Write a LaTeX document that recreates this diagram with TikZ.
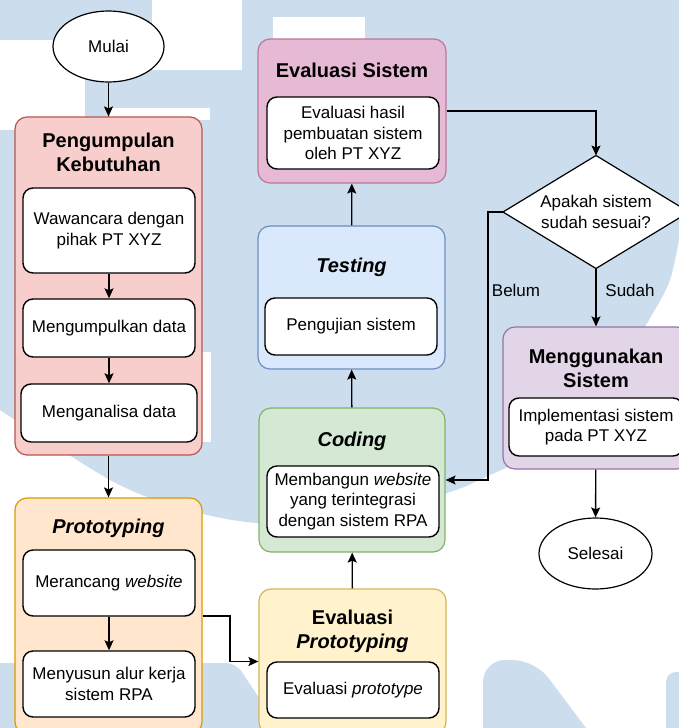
\documentclass[tikz,border=0pt]{standalone}
\usepackage{fontspec}
\setmainfont{Liberation Sans}
\usetikzlibrary{arrows.meta,shapes.geometric}
\definecolor{wm}{RGB}{204,222,237}
\definecolor{redF}{HTML}{F8CECC}\definecolor{redD}{HTML}{B85450}
\definecolor{orgF}{HTML}{FFE6CC}\definecolor{orgD}{HTML}{D79B00}
\definecolor{yelF}{HTML}{FFF2CC}\definecolor{yelD}{HTML}{D6B656}
\definecolor{grnF}{HTML}{D5E8D4}\definecolor{grnD}{HTML}{82B366}
\definecolor{bluF}{HTML}{DAE8FC}\definecolor{bluD}{HTML}{6C8EBF}
\definecolor{pnkF}{RGB}{230,185,212}\definecolor{pnkD}{RGB}{186,118,158}
\definecolor{purF}{HTML}{E1D5E7}\definecolor{purD}{HTML}{9673A6}
\tikzset{
  body/.style={font=\fontsize{17}{20.4}\selectfont},
  box/.style={body, draw=black, line width=1.4pt, fill=white, rounded corners=10pt, align=center, inner sep=0pt},
  cont/.style={line width=1.2pt, rounded corners=12pt, inner sep=0pt},
  ttl/.style={font=\fontsize{20}{24}\selectfont\bfseries, align=center, inner sep=0pt},
  lbl/.style={body, inner sep=0pt},
  term/.style={body, ellipse, draw=black, line width=1.2pt, fill=white, inner sep=0pt},
  arr/.style={line width=1.4pt, -{Stealth[length=10pt,width=9pt,inset=2pt]}},
}
\begin{document}
\begin{tikzpicture}[x=1pt,y=-1pt]
\useasboundingbox (0,0) rectangle (679,728);
\clip (0,0) rectangle (679,728);
% watermark
\fill[wm] (0,0) -- (679,0) -- plot[smooth] coordinates {(679,240) (670,280) (653,313) (600,400) (540,450) (490,475) (447,493) (350,518) (257,523) (180,508) (110,480) (0,410)} -- cycle;
\fill[white] (152,0) rectangle (242,70);
\fill[white] (0,40) rectangle (152,70);
\fill[white] (0,40) rectangle (85,130);
\fill[white] (110,108) rectangle (210,120);
\fill[white] (190,352) rectangle (211,442);
\fill[white] (273,17) rectangle (365,39);
\fill[wm] (0,663) rectangle (40,740);
\fill[wm, rounded corners=10pt] (190,760) -- (190,663) -- (236,663) -- (300,760) -- cycle;
\fill[wm, rounded corners=22pt] (483,760) -- (483,660) -- (535,660) -- (610,760) -- cycle;
\fill[wm, rounded corners=10pt] (666,760) -- (666,672) -- (720,672) -- (720,760) -- cycle;

% containers
\node[cont, draw=redD, fill=redF, minimum width=187, minimum height=338] (p1) at (108.5,286) {};
\node[cont, draw=orgD, fill=orgF, minimum width=187, minimum height=236] (p2) at (108.5,616) {};
\node[cont, draw=yelD, fill=yelF, minimum width=187, minimum height=145] (ep) at (352.5,661.5) {};
\node[cont, draw=grnD, fill=grnF, minimum width=186, minimum height=144] (cd) at (352,480) {};
\node[cont, draw=bluD, fill=bluF, minimum width=187, minimum height=143] (ts) at (351.5,297.5) {};
\node[cont, draw=pnkD, fill=pnkF, minimum width=188, minimum height=144] (es) at (352,111) {};
\node[cont, draw=purD, fill=purF, minimum width=186, minimum height=142] (mg) at (596,398) {};

% titles
\node[ttl] (p1t) at (108.5,152) {Pengumpulan\\Kebutuhan};
\node[ttl] (p2t) at (108.5,528) {\itshape Prototyping};
\node[ttl] (ept) at (352.5,631) {Evaluasi\\\itshape Prototyping};
\node[ttl] (cdt) at (352,441) {\itshape Coding};
\node[ttl] (tst) at (351.5,267) {\itshape Testing};
\node[ttl] (est) at (352,70) {Evaluasi Sistem};
\node[ttl] (mgt) at (596,368) {Menggunakan\\Sistem};

% inner boxes
\node[box, minimum width=172, minimum height=85] (w) at (109,230.5) {Wawancara dengan\\pihak PT XYZ};
\node[box, minimum width=172, minimum height=58] (md) at (109,328) {Mengumpulkan data};
\node[box, minimum width=176, minimum height=58] (ma) at (109,413) {Menganalisa data};
\node[box, minimum width=172, minimum height=66] (mw) at (109,583) {Merancang \textit{website}};
\node[box, minimum width=172, minimum height=66] (ms) at (109,684) {Menyusun alur kerja\\sistem RPA};
\node[box, minimum width=172, minimum height=56] (epi) at (353,690) {Evaluasi \textit{prototype}};
\node[box, minimum width=172, minimum height=71] (cdi) at (353,501.5) {Membangun \textit{website}\\yang terintegrasi\\dengan sistem RPA};
\node[box, minimum width=172, minimum height=57] (tsi) at (351,326.5) {Pengujian sistem};
\node[box, minimum width=172, minimum height=72] (esi) at (353,133) {Evaluasi hasil\\pembuatan sistem\\oleh PT XYZ};
\node[box, minimum width=174, minimum height=58] (mgi) at (596,427) {Implementasi sistem\\pada PT XYZ};

% terminals
\node[term, minimum width=111, minimum height=71] (mulai) at (108.5,46.5) {Mulai};
\node[term, minimum width=113, minimum height=71] (selesai) at (595.5,553.5) {Selesai};

% decision
\coordinate (dn) at (596,155.5);
\coordinate (ds) at (596,268.5);
\coordinate (dw) at (503,212);
\coordinate (de) at (689,212);
\filldraw[fill=white, draw=black, line width=1.2pt] (dn) -- (de) -- (ds) -- (dw) -- cycle;
\node[body, align=center, inner sep=0pt] (dt) at (596,212) {Apakah sistem\\sudah sesuai?};

% connectors
\draw[arr] (mulai) -- (p1);
\draw[arr] (w) -- (md);
\draw[arr] (md) -- (ma);
\draw[arr] (p1) -- (p2);
\draw[arr] (mw) -- (ms);
\draw[arr] (p2.east) -- (230,616) -- (230,661.5) -- (ep.west);
\draw[arr] (ep) -- (cd);
\draw[arr] (cd) -- (ts);
\draw[arr] (ts) -- (es);
\draw[arr] (es.east) -- (596,111) -- (dn);
\draw[arr] (dw) -- (488,212) -- (488,480) -- (cd.east);
\draw[arr] (ds) -- (mg);
\draw[arr] (mg) -- (selesai);
\node[lbl] (belum) at (516,290) {Belum};
\node[lbl] (sudah) at (630,290) {Sudah};
\end{tikzpicture}
\end{document}
